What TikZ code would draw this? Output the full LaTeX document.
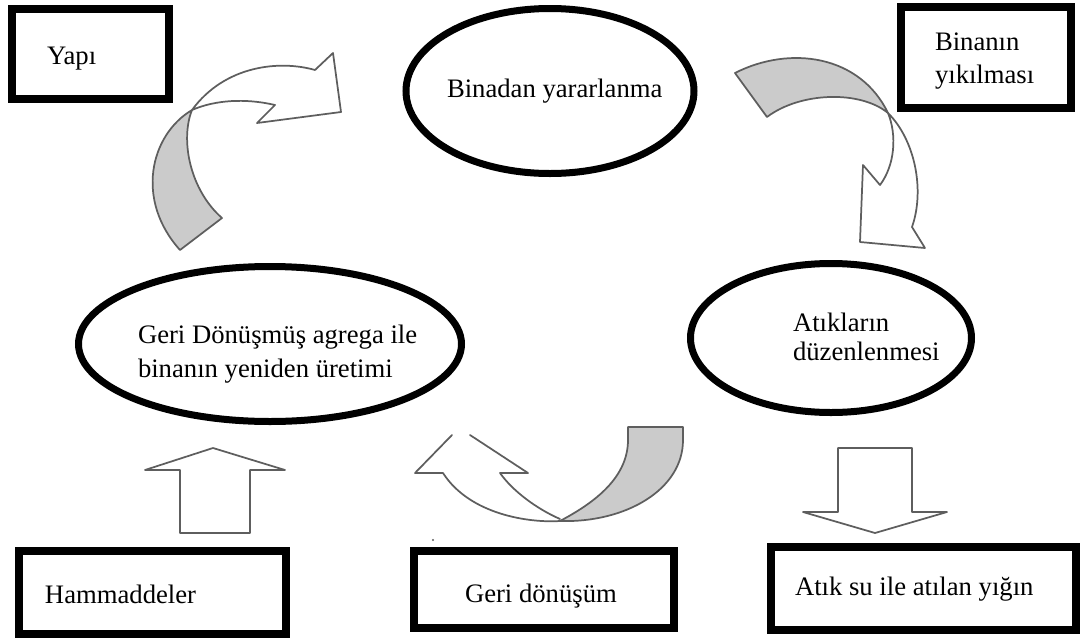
\documentclass[tikz,border=0pt]{standalone}
\usepackage{fontspec}
\setmainfont{Liberation Serif}
\usetikzlibrary{shapes.geometric}
\definecolor{arrgray}{HTML}{5E5E5E}
\definecolor{backgray}{HTML}{CBCBCB}
\tikzset{
  boxnode/.style={draw, rectangle, line width=6pt, inner sep=0pt, outer sep=0pt},
  ovalnode/.style={draw, ellipse, line width=5.25pt, inner sep=0pt, outer sep=0pt},
  lbl/.style={anchor=base west, inner sep=0pt, outer sep=0pt, font=\fontsize{20}{24}\selectfont},
  arrline/.style={draw=arrgray, line width=1.3pt, line join=round, line cap=round},
  backside/.style={arrline, fill=backgray},
  frontside/.style={arrline, fill=white}
}
\begin{document}
\begin{tikzpicture}[x=0.75pt,y=-0.75pt]
\path[use as bounding box, fill=white] (0,0) rectangle (1083,640);

% boxes
\node[boxnode, minimum width={157*0.75pt}, minimum height={90*0.75pt}] (yapi) at (90.5,54) {};
\node[boxnode, minimum width={170*0.75pt}, minimum height={101*0.75pt}] (yikilma) at (986,57.5) {};
\node[boxnode, minimum width={267*0.75pt}, minimum height={83*0.75pt}] (hammadde) at (152.5,592.5) {};
\node[boxnode, minimum width={260*0.75pt}, minimum height={77*0.75pt}] (geridon) at (544,589.5) {};
\node[boxnode, minimum width={305*0.75pt}, minimum height={83*0.75pt}] (atiksu) at (923.5,588.5) {};

% ellipses
\node[ovalnode, minimum width={288*0.75pt}, minimum height={165*0.75pt}] (yararlanma) at (550,91) {};
\node[ovalnode, minimum width={383*0.75pt}, minimum height={155*0.75pt}] (uretim) at (270,344) {};
\node[ovalnode, minimum width={281*0.75pt}, minimum height={149*0.75pt}] (duzen) at (831,338) {};

% texts
\node[lbl] (tyapi) at (47,64) {Yapı};
\node[lbl] (tyik1) at (935,50) {Binanın};
\node[lbl] (tyik2) at (935,83) {yıkılması};
\node[lbl] (tyarar) at (447,97) {Binadan yararlanma};
\node[lbl] (turet1) at (138,343) {Geri Dönüşmüş agrega ile};
\node[lbl] (turet2) at (138,377) {binanın yeniden üretimi};
\node[lbl] (tduz1) at (793,331) {Atıkların};
\node[lbl] (tduz2) at (793,360) {düzenlenmesi};
\node[lbl] (tham) at (45,603) {Hammaddeler};
\node[lbl] (tgeri) at (465,602) {Geri dönüşüm};
\node[lbl] (tatik) at (795,595) {Atık su ile atılan yığın};

% top-left curved arrow (Yapı -> Binadan yararlanma)
\path[backside] (180,250) .. controls (135,200) and (150,135) .. (192,110)
  .. controls (180,140) and (190,190) .. (222,218) -- cycle;
\path[frontside] (192,110) .. controls (225,65) and (280,60) .. (315,70)
  -- (333,53) -- (341,112) -- (257,123) -- (275,105)
  .. controls (245,98) and (215,100) .. (192,110) -- cycle;

% top-right curved arrow
\path[backside] (735,73) .. controls (790,45) and (860,55) .. (888,113)
  .. controls (860,90) and (800,92) .. (767,117) -- cycle;
\path[frontside] (888,113) .. controls (915,140) and (925,190) .. (912,227)
  -- (925,248) -- (860,242) -- (863,165) -- (880,185)
  .. controls (895,165) and (897,135) .. (888,113) -- cycle;

% bottom curved arrow
\path[backside] (628,427) -- (683,427) -- (683,440)
  .. controls (683,490) and (625,523) .. (560,521)
  .. controls (590,505) and (628,480) .. (628,440) -- cycle;
\path[arrline] (452,435) -- (415,473) -- (443,473)
  .. controls (470,515) and (530,523) .. (560,521);
\path[arrline] (560,519) .. controls (535,508) and (512,490) .. (500,473)
  -- (528,473) -- (470,435);

% straight block arrows
\path[arrline] (180,533) -- (180,470) -- (145,470) -- (213,448) -- (285,470)
  -- (250,470) -- (250,533) -- cycle;
\path[arrline] (838,448) -- (838,512) -- (803,512) -- (875,533) -- (947,512)
  -- (912,512) -- (912,448) -- cycle;

% small dot
\fill[arrgray] (433,540) circle (1.2);
\end{tikzpicture}
\end{document}
